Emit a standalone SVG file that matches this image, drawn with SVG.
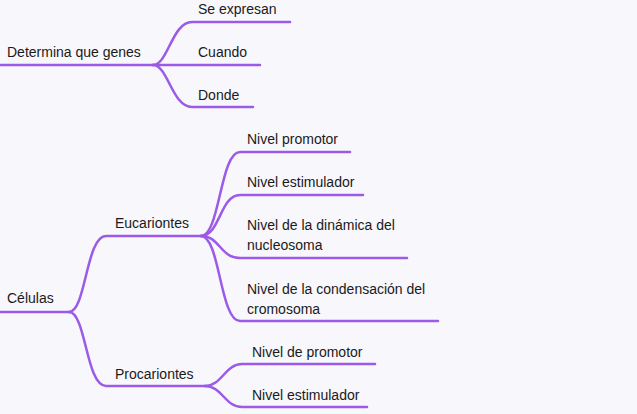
<svg xmlns="http://www.w3.org/2000/svg" width="637" height="414" viewBox="0 0 637 414">
<style>
.bg{fill:#f8f7fc}
.c path{fill:none;stroke:#9b5be6;stroke-width:2.5;stroke-linecap:round}
text{font-family:"Liberation Sans",Arial,sans-serif;font-size:14px;fill:#1a1a1a}
</style>
<rect class="bg" width="637" height="414"/>
<g class="c" id="connectors">
<path d="M0,65 H153"/>
<path d="M153,65 C168,65 172,22 192,22 H290"/>
<path d="M153,65 H260"/>
<path d="M153,65 C168,65 172,107 192,107 H253"/>
<path d="M0,312 H69"/>
<path d="M69,312 C86,312 86,236 106,236 H201"/>
<path d="M69,312 C86,312 86,386 106,386 H205"/>
<path d="M201,236 C220,236 220,152 240,152 H350"/>
<path d="M201,236 C220,236 220,195 240,195 H363"/>
<path d="M201,236 C220,236 220,258 240,258 H407"/>
<path d="M201,236 C220,236 220,321 240,321 H438"/>
<path d="M205,386 C222,386 225,364 242,364 H375"/>
<path d="M205,386 C222,386 225,407 242,407 H367"/>
</g>
<g id="n-determina"><text x="7" y="57">Determina que genes</text></g>
<g id="n-seexpresan"><text x="198" y="14">Se expresan</text></g>
<g id="n-cuando"><text x="198" y="57">Cuando</text></g>
<g id="n-donde"><text x="198" y="100">Donde</text></g>
<g id="n-celulas"><text x="7" y="303">Células</text></g>
<g id="n-eucariontes"><text x="115" y="228">Eucariontes</text></g>
<g id="n-procariontes"><text x="115" y="379">Procariontes</text></g>
<g id="n-promotor"><text x="247" y="144">Nivel promotor</text></g>
<g id="n-estimulador1"><text x="247" y="187">Nivel estimulador</text></g>
<g id="n-nucleosoma"><text x="247" y="230">Nivel de la dinámica del</text><text x="247" y="250">nucleosoma</text></g>
<g id="n-cromosoma"><text x="247" y="294">Nivel de la condensación del</text><text x="247" y="314">cromosoma</text></g>
<g id="n-depromotor"><text x="252" y="357">Nivel de promotor</text></g>
<g id="n-estimulador2"><text x="252" y="400">Nivel estimulador</text></g>
</svg>
